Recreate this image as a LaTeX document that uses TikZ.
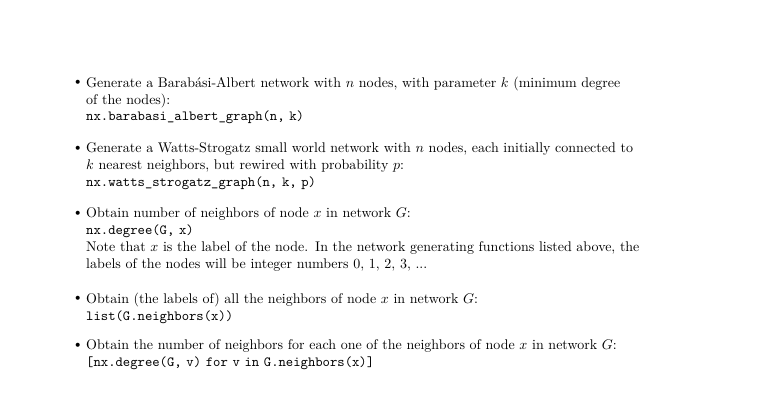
\documentclass[tikz,border=0pt]{standalone}
\begin{document}
\begin{tikzpicture}[x=1pt,y=1pt,
  itemtext/.style={anchor=north west,inner sep=0pt,text width=414pt,align=left},
  bul/.style={anchor=north west,inner sep=0pt,yshift=-2.2pt}]
\useasboundingbox (0,0) rectangle (540.7,-289.3);
\node[itemtext] (i1) at (61.4,-54.6) {Generate a Barab\'asi-Albert network with $n$ nodes, with parameter $k$ (minimum degree\\of the nodes):\\\texttt{nx.barabasi\_albert\_graph(n, k)}};
\node[bul] (b1) at (51.5,-54.6) {\textbullet};
\node[itemtext] (i2) at (61.4,-101.8) {Generate a Watts-Strogatz small world network with $n$ nodes, each initially connected to\\$k$ nearest neighbors, but rewired with probability $p$:\\\texttt{nx.watts\_strogatz\_graph(n, k, p)}};
\node[bul] (b2) at (51.5,-101.8) {\textbullet};
\node[itemtext] (i3) at (61.4,-148.2) {Obtain number of neighbors of node $x$ in network $G$:\\\texttt{nx.degree(G, x)}\\Note that $x$ is the label of the node. In the network generating functions listed above, the\\labels of the nodes will be integer numbers 0, 1, 2, 3, ...};
\node[bul] (b3) at (51.5,-148.2) {\textbullet};
\node[itemtext] (i4) at (61.4,-208.9) {Obtain (the labels of) all the neighbors of node $x$ in network $G$:\\\texttt{list(G.neighbors(x))}};
\node[bul] (b4) at (51.5,-208.9) {\textbullet};
\node[itemtext] (i5) at (61.4,-242.5) {Obtain the number of neighbors for each one of the neighbors of node $x$ in network $G$:\\\texttt{[nx.degree(G, v) for v in G.neighbors(x)]}};
\node[bul] (b5) at (51.5,-242.5) {\textbullet};
\end{tikzpicture}
\end{document}
